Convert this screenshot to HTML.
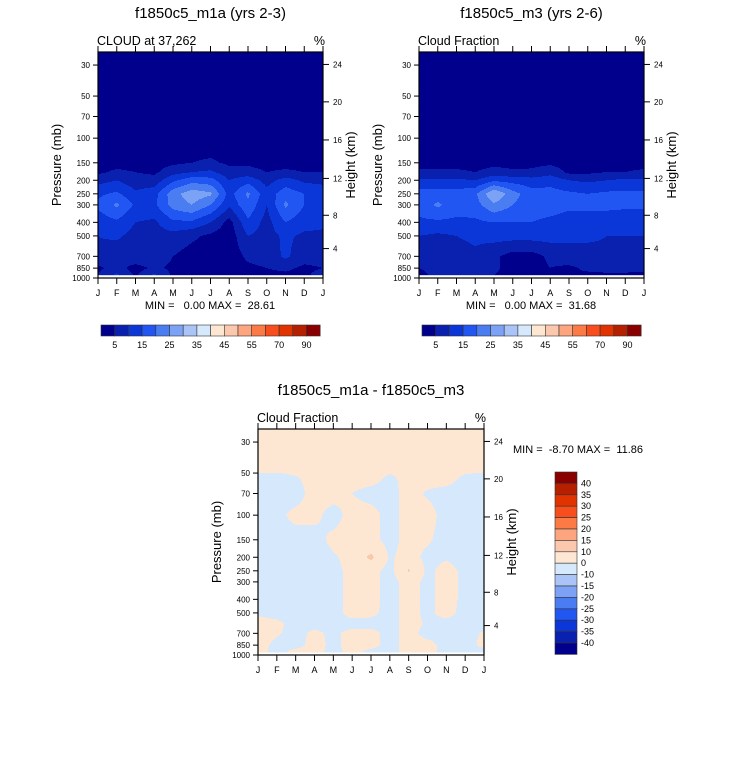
<!DOCTYPE html>
<html><head><meta charset="utf-8">
<style>
body{margin:0;background:#fff;}
svg{display:block;font-family:"Liberation Sans",sans-serif;}
text{white-space:pre;}
</style></head>
<body>
<svg id="chart" width="733" height="766" viewBox="0 0 733 766" xmlns="http://www.w3.org/2000/svg"></svg>
<script>
const months = ["J","F","M","A","M","J","J","A","S","O","N","D","J"];
const pressureTicks = [30,50,70,100,150,200,250,300,400,500,700,850,1000];
const heightTicks = [4,8,12,16,20,24];
const heightTickPressure = [616,356,194,103,55,29.7];
const levels = [5,10,15,20,25,30,35,40,45,50,55,60,70,80,90];
const levelLabels = ["5","15","25","35","45","55","70","90"];
const diffLevels = [-40,-35,-30,-25,-20,-15,-10,0,10,15,20,25,30,35,40];
const diffLabels = ["40","35","30","25","20","15","10","0","-10","-15","-20","-25","-30","-35","-40"];
const palette = ["#00008c","#0a20ae","#0b36d8","#2256f2","#4a7cf2","#7ca2f5","#aac4f8","#d6e8fb","#fde7d3","#fcc8ad","#fca57e","#fb7a45","#f84e1e","#e03300","#b52000","#8a0000"];

const gridP = [24,30,50,70,100,150,175,200,250,300,400,500,700,850,950];
const m1a = [
 [1,1,1,1,1,1,1,1,1,1,1,1,1],
 [1,1,1,1,1,1,1,1,1,1,1,1,1],
 [1,1,1,1,1,1,1,1,1,1,1,1,1],
 [1,1,1,1,1,1,1,1,1,1,1,1,1],
 [1,1,1,1,1,1,1,1,1,1,1,1,1],
 [3,3,3,3,4,5,6,4,4,3,3,3,3],
 [4,6,5,4,8,10,11,7,7,5,6,5,5],
 [8,10,7,7,14,18,17,10,13,8,12,9,8],
 [14,16,11,13,23,28,26,13,21,12,18,15,14],
 [16,21,14,14,22,25,20,11,19,10,21,15,14],
 [12,14,10,9,14,14,10,3,14,8,15,12,11],
 [10,11,8,8,8,6,4,2,10,8,11,9,9],
 [9,6,9,8,5,3,2,2,6,7,11,7,7],
 [4,7,3,6,4,3,2,2,4,5,6,4,5],
 [5,11,4,11,4,3,2,2,3,4,4,4,7]
];
const m3 = [
 [1,1,1,1,1,1,1,1,1,1,1,1,1],
 [1,1,1,1,1,1,1,1,1,1,1,1,1],
 [1,1,1,1,1,1,1,1,1,1,1,1,1],
 [1,1,1,1,1,1,1,1,1,1,1,1,1],
 [1,1,1,1,1,1,1,1,1,1,1,1,1],
 [3,3,3,3,3.5,3,3.5,4,3,3,3,3,3],
 [6,6,6,5,7,6,6,8,4,4,5,5,6],
 [11,11,11,10,14,13,12,13,10,9,10,11,11],
 [17,17,17,19,30,22,17,17,16,15,16,16,16],
 [17,21,17,18,24,20,17,17,16,16,16,16,16],
 [14,14,14,14,15,15,15,14,13,13,13,12,12],
 [10,9,10,11,12,12,12,12,11,11,10,10,10],
 [8,7,8,9,6,3,3,6,8,8,9,9,8],
 [5,6,7,7,6,3,3,5,4,6,7,7,6],
 [4,6,6,6,5,3,3,3,5,4,4,4,4]
];
const diffP = [24,45,55,70,100,150,200,250,300,400,500,600,700,850,960];
const diff = [
 [3,3,3,3,3,3,3,3,3,3,3,3,3],
 [3,3,3,3,3,3,3,3,3,3,3,3,3],
 [-3,-3,-1,3,3,3,3,-2,3,3,3,-2,-3],
 [-3,-3,-3,3,3,0,-3,-3,3,-1,-3,-3,-3],
 [-3,-2,2,2,-3,3,3,-3,3,3,-3,-3,-3],
 [-3,-3,-3,-3,2,3,3,-3,3,1,-3,-3,-3],
 [-3,-3,-3,-3,-1,3,12,-1,3,-2,-1,-3,-3],
 [-3,-3,-3,-3,-3,3,3,-3,11,-2,3,-2,-3],
 [-3,-3,-3,-3,-3,3,3,-3,3,-2,3,-2,-3],
 [-3,-3,-3,-3,-3,3,3,-3,3,-2,3,-2,-3],
 [-1,-3,-3,-3,-3,3,2,-3,3,-2,3,-3,-3],
 [3,2,-3,-3,-3,-3,-3,-3,3,-1,-3,-3,-3],
 [3,1,-3,2,-2,3,3,-3,3,-3,-3,-3,1],
 [3,-2,-3,3,-2,3,3,-3,3,3,-3,-3,2],
 [3,-3,3,3,-3,3,-3,-3,3,3,-3,-3,-3]
];

const NS="http://www.w3.org/2000/svg";
const svg=document.getElementById('chart');
function mk(tag,attrs,parent,txt){const e=document.createElementNS(NS,tag);for(const k in attrs)e.setAttribute(k,attrs[k]);if(txt!==undefined)e.textContent=txt;(parent||svg).appendChild(e);return e;}

function colorIdx(v,lv){let i=0;while(i<lv.length&&v>=lv[i])i++;return i;}

function interp(grid,ps,m,p){
  const lp=Math.log(p);
  let j=0;while(j<ps.length-2&&Math.log(ps[j+1])<lp)j++;
  let t=(lp-Math.log(ps[j]))/(Math.log(ps[j+1])-Math.log(ps[j]));t=Math.max(0,Math.min(1,t));
  let i=Math.min(11,Math.floor(m));let s=m-i;
  const a=grid[j][i],b=grid[j][i+1],c=grid[j+1][i],d=grid[j+1][i+1];
  return (a*(1-s)+b*s)*(1-t)+(c*(1-s)+d*s)*t;
}

function panel(o){
  const g=mk('g',{},svg);
  
  
  const x0=o.x0,x1=o.x1,yTop=o.yTop,yBot=o.yBot;
  const pTop=o.pTop;
  const k=(yBot-yTop)/Math.log(1000/pTop);
  const yOf=p=>yBot-k*Math.log(1000/p);
  const xOf=m=>x0+(x1-x0)*m/12;
  const yData=yOf(o.pData);
  const cells=mk('g',{},g);
  
  
  const step=1;
  for(let y=yTop;y<yData;y+=step){
    const h=Math.min(step,yData-y);
    const p=1000*Math.exp(-(yBot-(y+h/2))/k);
    let runStart=x0,runC=null;
    for(let x=x0;x<=x1;x+=1){
      let c=null;
      if(x<x1){const m=(x+0.5-x0)/(x1-x0)*12;c=colorIdx(interp(o.grid,o.gridP,m,p),o.lv)+o.cOff;}
      if(c!==runC){
        if(runC!==null){const r=mk('rect',{x:runStart,y:y,width:x-runStart+0.3,height:h+0.3,fill:palette[runC]},cells);}
        runStart=x;runC=c;
      }
    }
  }
  const fr=mk('rect',{x:x0,y:yTop,width:x1-x0,height:yBot-yTop,fill:'none',stroke:'#000','stroke-width':1.2},g);
  
  months.forEach((mn,i)=>{
    const x=xOf(i);
    mk('line',{x1:x,y1:yTop,x2:x,y2:yTop-6,stroke:'#000','stroke-width':1},g);
    mk('line',{x1:x,y1:yBot,x2:x,y2:yBot+6,stroke:'#000','stroke-width':1},g);
    const t=mk('text',{x:x,y:yBot+18,'font-size':9,'text-anchor':'middle'},g,mn);
    
  });
  pressureTicks.forEach(p=>{
    const y=yOf(p);
    mk('line',{x1:x0,y1:y,x2:x0-5,y2:y,stroke:'#000','stroke-width':1},g);
    const t=mk('text',{x:x0-8,y:y+3,'font-size':8,'text-anchor':'end'},g,String(p));
    
  });
  heightTicks.forEach((z,i)=>{
    const y=yOf(heightTickPressure[i]);
    mk('line',{x1:x1,y1:y,x2:x1+6,y2:y,stroke:'#000','stroke-width':1},g);
    const t=mk('text',{x:x1+10,y:y+3,'font-size':8},g,String(z));
    
  });
  const yc=(yTop+yBot)/2;
  let t=mk('text',{x:0,y:0,'font-size':13,'text-anchor':'middle',transform:`translate(${x0-37},${yc}) rotate(-90)`},g,'Pressure (mb)');
  
  t=mk('text',{x:0,y:0,'font-size':13,'text-anchor':'middle',transform:`translate(${x1+32},${yc}) rotate(-90)`},g,'Height (km)');
  
  t=mk('text',{x:(x0+x1)/2,y:yTop-34,'font-size':15,'text-anchor':'middle'},g,o.title);
  
  t=mk('text',{x:x0-1,y:yTop-7,'font-size':12.5},g,o.sub);
  
  t=mk('text',{x:x1+2,y:yTop-7,'font-size':12.5,'text-anchor':'end'},g,'%');
  
}

function hbar(x0,y0,name){
  const g=mk('g',{},svg);
  
  const w=13.7,h=11;
  palette.forEach((c,i)=>{const r=mk('rect',{x:x0+i*w,y:y0,width:w,height:h,fill:c,stroke:'#333','stroke-width':0.6},g);});
  levelLabels.forEach((l,i)=>{const t=mk('text',{x:x0+(2*i+1)*w,y:y0+h+12,'font-size':9,'text-anchor':'middle'},g,l);});
}

panel({name:'panel-m1a',x0:98,x1:323,yTop:52,yBot:278,pTop:24.2,pData:950,grid:m1a,gridP:gridP,lv:levels,cOff:0,title:'f1850c5_m1a (yrs 2-3)',sub:'CLOUD at 37,262'});
panel({name:'panel-m3',x0:419,x1:644,yTop:52,yBot:278,pTop:24.2,pData:950,grid:m3,gridP:gridP,lv:levels,cOff:0,title:'f1850c5_m3 (yrs 2-6)',sub:'Cloud Fraction'});
panel({name:'panel-diff',x0:258,x1:484,yTop:429,yBot:655,pTop:24.2,pData:955,grid:diff,gridP:diffP,lv:diffLevels,cOff:0,title:'f1850c5_m1a - f1850c5_m3',sub:'Cloud Fraction'});

let t=mk('text',{x:210,y:309,'font-size':11,'text-anchor':'middle'},svg,'MIN =   0.00 MAX =  28.61');

t=mk('text',{x:531,y:309,'font-size':11,'text-anchor':'middle'},svg,'MIN =   0.00 MAX =  31.68');

t=mk('text',{x:513,y:453,'font-size':11},svg,'MIN =  -8.70 MAX =  11.86');

hbar(101,325,'colorbar-m1a');
hbar(422,325,'colorbar-m3');

(function(){
  const g=mk('g',{},svg);
  
  const x0=555,y0=472,w=22,h=11.4;
  for(let i=0;i<16;i++){const r=mk('rect',{x:x0,y:y0+i*h,width:w,height:h,fill:palette[15-i],stroke:'#333','stroke-width':0.6},g);}
  diffLabels.forEach((l,i)=>{const t=mk('text',{x:x0+w+4,y:y0+(i+1)*h+3,'font-size':9},g,l);});
})();
</script>
</body></html>
